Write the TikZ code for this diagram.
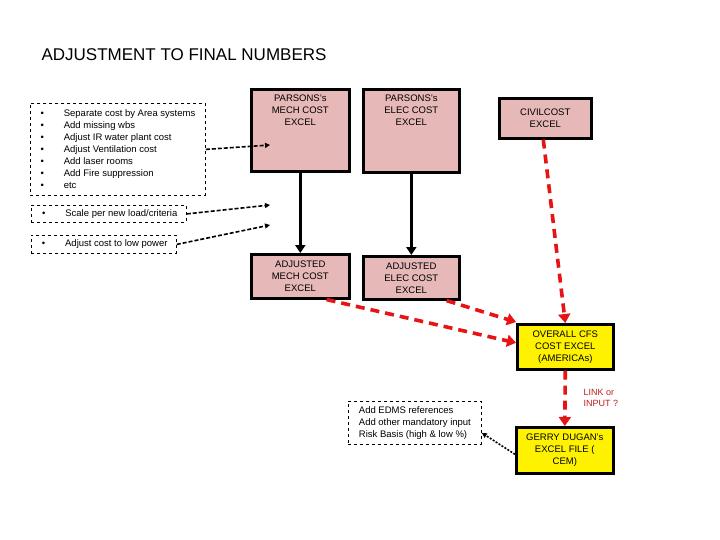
\documentclass[tikz,border=0pt]{standalone}
\usepackage{fontspec}
\setmainfont{Liberation Sans}
\usetikzlibrary{arrows.meta}
\begin{document}
\begin{tikzpicture}[x=1pt,y=-1pt,
  pbox/.style={draw,line width=2.6pt,fill={rgb,255:red,230;green,184;blue,183},align=center,font=\fontsize{9.5}{12}\selectfont,inner sep=0pt},
  ybox/.style={draw,line width=2.6pt,fill=yellow,align=center,font=\fontsize{9.5}{12}\selectfont,inner sep=0pt},
  dbox/.style={draw,dashed,line width=0.8pt,align=left,font=\fontsize{9.5}{12}\selectfont,inner sep=3pt,anchor=north west},
  blk/.style={line width=3pt,-{Triangle[length=8pt,width=10pt]}},
  red/.style={draw={rgb,255:red,230;green,20;blue,20},line width=3.6pt,dash pattern=on 9pt off 6pt,-{Triangle[length=9pt,width=12pt]}},
  dsh/.style={line width=1.6pt,dash pattern=on 4pt off 2pt,-{Triangle[length=5pt,width=5pt]}}]
\useasboundingbox (0,0) rectangle (720,540);
\node[anchor=west,font=\fontsize{17}{20}\selectfont] (title) at (38,55) {ADJUSTMENT TO FINAL NUMBERS};
\node[pbox,minimum width=98pt,minimum height=82pt,anchor=north west] (mech) at (250,88) {};
\node[align=center,font=\fontsize{9.5}{12}\selectfont,anchor=north] (mecht) at ([yshift=-3pt]mech.north) {PARSONS's\\MECH COST\\EXCEL};
\node[pbox,minimum width=96pt,minimum height=83pt,anchor=north west] (elec) at (362,88) {};
\node[align=center,font=\fontsize{9.5}{12}\selectfont,anchor=north] (elect) at ([yshift=-3pt]elec.north) {PARSONS's\\ELEC COST\\EXCEL};
\node[pbox,minimum width=92pt,minimum height=40pt,anchor=north west] (civil) at (498,97) {CIVILCOST\\EXCEL};
\node[pbox,minimum width=98pt,minimum height=44pt,anchor=north west] (amech) at (250,253) {ADJUSTED\\MECH COST\\EXCEL};
\node[pbox,minimum width=96pt,minimum height=43pt,anchor=north west] (aelec) at (362,255) {ADJUSTED\\ELEC COST\\EXCEL};
\node[ybox,minimum width=96pt,minimum height=45pt,anchor=north west] (overall) at (516,323) {OVERALL CFS\\COST EXCEL\\(AMERICAs)};
\node[ybox,minimum width=97pt,minimum height=46pt,anchor=north west] (gerry) at (515,426) {GERRY DUGAN's\\EXCEL FILE (\\CEM)};
\node[dbox,minimum width=175pt,minimum height=92pt] (b1) at (30,103) {\textbullet\hspace{20pt}Separate cost by Area systems\\\textbullet\hspace{20pt}Add missing wbs\\\textbullet\hspace{20pt}Adjust IR water plant cost\\\textbullet\hspace{20pt}Adjust Ventilation cost\\\textbullet\hspace{20pt}Add laser rooms\\\textbullet\hspace{20pt}Add Fire suppression\\\textbullet\hspace{20pt}etc};
\node[dbox,minimum width=155pt,minimum height=17pt,inner sep=1pt] (b2) at (31,205) {\,\textbullet\hspace{20pt}Scale per new load/criteria};
\node[dbox,minimum width=145pt,minimum height=18pt,inner sep=1pt] (b3) at (31,235) {\,\textbullet\hspace{20pt}Adjust cost to low power};
\node[dbox,minimum width=133pt,minimum height=43pt] (edms) at (348,401) {Add EDMS references\\Add other mandatory input\\Risk Basis (high \& low \%)};
\node[font=\fontsize{9}{11}\selectfont,text={rgb,255:red,190;green,30;blue,30},align=left,anchor=west] (link) at (580,398) {LINK or\\INPUT ?};
\coordinate (t1) at (270,145);\coordinate (t2) at (270,205);\coordinate (t3) at (270,225);
\draw[dsh] (b1.east) -- (t1);
\draw[dsh] (b2.east) -- (t2);
\draw[dsh] (b3.east) -- (t3);
\draw[blk] (mech.south) -- (amech.north);
\draw[blk] (elec.south) -- (aelec.north);
\draw[red] ([xshift=-2pt]civil.south) -- (overall.north);
\draw[red] ([xshift=-24pt]amech.south east) -- ([yshift=4pt]overall.west);
\draw[red] ([xshift=-14pt]aelec.south east) -- ([yshift=1pt]overall.north west);
\draw[red] (overall.south) -- (gerry.north);
\draw[line width=1.6pt,dash pattern=on 2pt off 1.5pt,-{Triangle[length=5pt,width=5pt]}] ([yshift=-4pt]gerry.west) -- ([yshift=-10pt]edms.east);
\end{tikzpicture}
\end{document}
